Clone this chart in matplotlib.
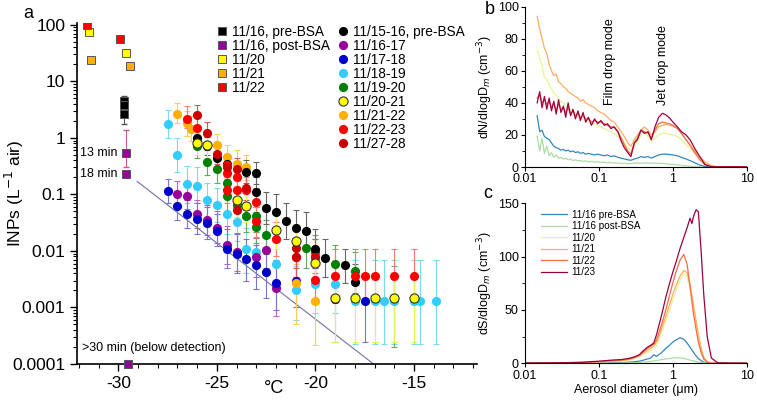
import numpy as np
import matplotlib
matplotlib.use('Agg')
import matplotlib.pyplot as plt
from matplotlib.lines import Line2D
from matplotlib.ticker import FixedLocator, FuncFormatter, MultipleLocator, NullLocator

plt.rcParams['font.family'] = ['Liberation Sans', 'DejaVu Sans']
plt.rcParams['axes.unicode_minus'] = False

# ---------- panel a: squares (BSA samples) ----------
sq_pre_T = [-29.7, -29.7, -29.7]
sq_pre_y = [4.5, 3.8, 2.6]
sq_pre_lo = [3.3, 2.6, 1.75]
sq_pre_hi = [5.5, 5.0, 3.6]
sq_post_T = [-29.6, -29.6]
sq_post_y = [0.55, 0.23]
sq_post_lo = [0.3, 0.23]
sq_post_hi = [1.4, 0.23]
sq_post_bd_T = [-29.5]          # below detection, drawn on the axis
sq_post_bd_y = [1e-4]
sq20_T = [-31.5, -29.6]
sq20_y = [75, 32]
sq21_T = [-31.4, -29.4]
sq21_y = [24, 19]
sq22_T = [-31.6, -29.9]
sq22_y = [100, 57]

# ---------- panel a: circles (daily samples) ----------
bk_T = [-26, -25.5, -25, -24.5, -23.5, -23, -23, -22.5, -22, -21.5, -21, -20.5, -20, -19.5, -18.5, -18]
bk_y = [1.0, 0.73, 0.44, 0.35, 0.25, 0.24, 0.11, 0.058, 0.049, 0.034, 0.025, 0.023, 0.011, 0.0075, 0.0056, 0.0028]
bk_lo = [0.7, 0.5, 0.28, 0.22, 0.16, 0.15, 0.06, 0.03, 0.024, 0.016, 0.012, 0.011, 0.005, 0.0035, 0.0027, 0.0012]
bk_hi = [1.4, 1.05, 0.65, 0.52, 0.4, 0.38, 0.2, 0.11, 0.1, 0.07, 0.052, 0.048, 0.024, 0.016, 0.011, 0.006]

pu_T = [-27, -26.5, -26, -25.5, -25, -24.5, -24, -23, -22.5, -22]
pu_y = [0.10, 0.094, 0.045, 0.035, 0.026, 0.013, 0.0096, 0.0079, 0.0106, 0.0022]
pu_lo = [0.06, 0.055, 0.025, 0.019, 0.014, 0.006, 0.0045, 0.0035, 0.005, 0.0007]
pu_hi = [0.17, 0.16, 0.08, 0.065, 0.05, 0.028, 0.021, 0.017, 0.022, 0.006]

bl_T = [-27.5, -27, -26.5, -26, -25.5, -25, -24.5, -24, -23.5, -23, -22.5, -22, -21, -19, -17.5]
bl_y = [0.115, 0.062, 0.045, 0.037, 0.031, 0.023, 0.011, 0.009, 0.0072, 0.0056, 0.0042, 0.0027, 0.003, 0.0014, 0.0013]
bl_lo = [0.07, 0.035, 0.025, 0.02, 0.016, 0.012, 0.005, 0.004, 0.003, 0.0021, 0.0015, 0.0009, 0.001, 0.00025, 0.00025]
bl_hi = [0.19, 0.11, 0.08, 0.07, 0.06, 0.045, 0.024, 0.02, 0.016, 0.013, 0.01, 0.007, 0.008, 0.004, 0.004]

cy_T = [-27.5, -27, -26.5, -26, -25.5, -25, -24.5, -24, -23.5, -23, -22, -21, -20, -19,
        -18, -17, -16.5, -16, -15, -14.7, -13.9]
cy_y = [1.75, 0.5, 0.15, 0.14, 0.08, 0.065, 0.045, 0.033, 0.011, 0.0094, 0.006, 0.002, 0.0026, 0.0026,
        0.0013, 0.0013, 0.0013, 0.0013, 0.0013, 0.0013, 0.0013]
cy_lo = [1.0, 0.25, 0.07, 0.07, 0.04, 0.032, 0.02, 0.015, 0.004, 0.0035, 0.0022, 0.0006, 0.0008, 0.0008,
         0.00023, 0.00023, 0.00023, 0.00023, 0.00023, 0.00023, 0.00023]
cy_hi = [3.1, 1.0, 0.32, 0.3, 0.16, 0.13, 0.095, 0.07, 0.025, 0.022, 0.015, 0.0055, 0.0065, 0.0065,
         0.0069, 0.0069, 0.0069, 0.0069, 0.0069, 0.0069, 0.0069]

gr_T = [-26, -25.5, -25, -24.5, -24.5, -24, -23.5, -23, -23, -22.5, -20.5, -20, -19, -18, -16]
gr_y = [0.73, 0.38, 0.28, 0.16, 0.092, 0.065, 0.042, 0.041, 0.027, 0.019, 0.0112, 0.0095, 0.006, 0.0044, 0.00145]
gr_lo = [0.45, 0.22, 0.16, 0.09, 0.05, 0.035, 0.022, 0.022, 0.014, 0.009, 0.005, 0.004, 0.0025, 0.0018, 0.0002]
gr_hi = [1.1, 0.6, 0.45, 0.26, 0.15, 0.11, 0.07, 0.07, 0.048, 0.035, 0.022, 0.019, 0.013, 0.0095, 0.0055]

ye_T = [-26, -25.5, -24, -23.5, -22, -21, -20, -19, -18, -17, -16, -15]
ye_y = [0.81, 0.76, 0.079, 0.062, 0.0235, 0.015, 0.0062, 0.00145, 0.00145, 0.00145, 0.00145, 0.00145]
ye_lo = [0.5, 0.45, 0.04, 0.032, 0.011, 0.007, 0.0025, 0.00025, 0.00025, 0.00025, 0.00025, 0.00025]
ye_hi = [1.2, 1.15, 0.14, 0.11, 0.045, 0.03, 0.013, 0.004, 0.004, 0.004, 0.004, 0.004]

or_T = [-27, -26.5, -26.3, -25, -24.5, -24, -23.5, -21, -20]
or_y = [2.7, 1.8, 1.45, 0.74, 0.46, 0.35, 0.31, 0.0027, 0.0013]
or_lo = [1.8, 1.1, 0.9, 0.45, 0.28, 0.2, 0.18, 0.0005, 0.00022]
or_hi = [4.2, 3.0, 2.4, 1.15, 0.75, 0.6, 0.5, 0.006, 0.0035]

rd_T = [-26.5, -26, -24.5, -24.5, -24.5, -24, -24, -23.5, -23, -23, -22, -21, -20, -20,
        -19, -18, -17.5, -17, -16, -15]
rd_y = [2.2, 1.5, 0.33, 0.24, 0.12, 0.2, 0.12, 0.12, 0.074, 0.034, 0.016, 0.0079, 0.0079, 0.0031,
        0.0036, 0.0036, 0.0036, 0.0036, 0.0036, 0.0036]
rd_lo = [1.5, 1.0, 0.2, 0.14, 0.07, 0.12, 0.07, 0.07, 0.04, 0.018, 0.008, 0.0035, 0.0035, 0.0012,
         0.0012, 0.0012, 0.0012, 0.0012, 0.0012, 0.0012]
rd_hi = [3.6, 2.3, 0.5, 0.38, 0.2, 0.32, 0.2, 0.2, 0.13, 0.06, 0.032, 0.016, 0.016, 0.0075,
         0.011, 0.011, 0.011, 0.011, 0.011, 0.011]

dr_T = [-26, -25.5, -25, -24.5, -24, -23.5, -24, -21, -21, -20]
dr_y = [2.5, 1.2, 0.53, 0.30, 0.28, 0.13, 0.053, 0.0112, 0.0077, 0.0079]
dr_lo = [1.6, 0.8, 0.35, 0.19, 0.18, 0.08, 0.03, 0.005, 0.0035, 0.0035]
dr_hi = [3.8, 1.9, 0.85, 0.5, 0.45, 0.22, 0.09, 0.024, 0.016, 0.016]

# reference line in panel a
ref_T = [-29.05, -17.05]
ref_y = [0.17, 1e-4]

# ---------- panel b: number size distributions ----------
D_b = [0.0146, 0.0158, 0.0170, 0.0183, 0.0197, 0.0212, 0.0228, 0.0245, 0.0264, 0.0284,
       0.0306, 0.033, 0.0355, 0.0383, 0.0413, 0.0445, 0.048, 0.052, 0.056, 0.061,
       0.066, 0.072, 0.079, 0.087, 0.096, 0.106, 0.118, 0.13, 0.145, 0.16,
       0.18, 0.2, 0.22, 0.245, 0.27, 0.3, 0.33, 0.37, 0.41, 0.46,
       0.51, 0.57, 0.64, 0.72, 0.8, 0.9, 1.0, 1.15, 1.3, 1.5,
       1.7, 2.0, 2.3, 2.7, 3.2, 4.0, 5.5, 7.5, 10.0]
N_pre = [32, 22, 23, 19, 18, 17, 15, 13, 12, 11.5,
         10.5, 11, 10, 10.5, 9.5, 10, 9, 9.5, 8.5, 9,
         8, 8.5, 8, 7.5, 8, 7.5, 7, 7.5, 6.5, 7,
         6, 5.5, 5, 4.5, 4.2, 5, 5.5, 6.5, 6, 6.5,
         5.5, 6.5, 7.5, 8, 8, 7.8, 7.5, 7, 6, 5,
         4, 2.5, 1.2, 0.4, 0.1, 0.1, 0.1, 0.1, 0.1]
N_post = [19, 10, 18, 8.5, 13, 7, 9, 6, 7.5, 5.5,
          6, 5, 5.5, 4.5, 5, 4, 4.5, 3.8, 4, 3.5,
          3.8, 3.3, 3.5, 3, 3.2, 2.8, 3, 2.6, 2.8, 2.4,
          2.5, 2.2, 2.3, 2, 2.1, 2.3, 2.5, 2.4, 2.6, 2.5,
          2.3, 2.4, 2.3, 2.2, 2, 1.8, 1.6, 1.3, 1.0, 0.7,
          0.4, 0.2, 0.1, 0.1, 0.1, 0.1, 0.1, 0.1, 0.1]
N_20 = [73, 68, 63, 56, 55, 51, 49, 46, 45, 42,
        41, 40, 38, 37, 36, 35, 34, 32, 31, 30,
        29, 29, 28, 27, 26, 25, 24, 23, 22, 21,
        19, 17, 15, 12, 10, 13, 16, 20, 22, 19,
        16, 18, 20, 21, 21, 20.5, 20, 19, 17, 14,
        11.5, 8, 5.7, 2.8, 0.8, 0.2, 0.1, 0.1, 0.1]
N_21 = [94, 86, 80, 74, 71, 64, 60, 57, 58, 53,
        52, 50, 49, 47, 46, 45, 44, 43, 41, 42,
        40, 39, 38, 37, 35, 34, 33, 31, 29, 28,
        25, 22, 19, 15, 13, 17, 20, 23, 25, 23,
        20, 22, 25, 26, 26.5, 26, 25.5, 24, 21, 17,
        14, 9.5, 6.4, 3.2, 1, 0.2, 0.1, 0.1, 0.1]
N_22 = [43, 45, 40, 42, 39, 41, 37, 40, 35, 39,
        36, 37, 34, 37, 33, 35, 32, 33, 31, 32,
        30, 30, 28, 29, 28, 28, 27, 26, 25, 25,
        22, 18, 14, 10, 8, 15, 18, 23, 22, 21,
        18, 23, 27, 28, 27.5, 27, 26, 24, 21, 17,
        13.5, 8.5, 4.5, 1.5, 0.3, 0.1, 0.1, 0.1, 0.1]
N_23 = [40, 47, 37, 44, 36, 43, 35, 41, 33, 42,
        34, 38, 31, 40, 32, 36, 30, 35, 29, 34,
        28, 31, 26, 30, 27, 29, 26, 27, 24, 25,
        22, 16, 12, 9, 6.5, 15, 17, 23, 21, 22,
        17, 25, 31, 33.5, 32.5, 30.5, 28, 25, 22, 20,
        17, 11, 6.5, 1.6, 0.3, 0.1, 0.1, 0.1, 0.1]

# ---------- panel c: surface size distributions ----------
D_c = [0.01, 0.03, 0.06, 0.1, 0.15, 0.2, 0.25, 0.3, 0.35, 0.4,
       0.45, 0.5, 0.55, 0.6, 0.7, 0.8, 0.9, 1.0, 1.1, 1.25,
       1.4, 1.55, 1.7, 1.8, 1.9, 2.05, 2.2, 2.4, 2.6, 2.9,
       3.3, 4.0, 6.0, 10.0]
S_pre = [0, 0, 0.1, 0.3, 0.5, 0.7, 1, 1.5, 2, 3,
         4, 5, 8, 6.5, 10, 14, 17, 20, 22, 24,
         22.5, 19, 15, 12.5, 10, 7, 4.5, 2.5, 1, 0.3,
         0.1, 0, 0, 0]
S_post = [0, 0, 0, 0.1, 0.1, 0.2, 0.3, 0.5, 0.8, 1.1,
          1.4, 1.8, 2.2, 2.6, 3.5, 4.1, 4.5, 5, 5.2, 5,
          4.5, 3.8, 3, 2.6, 2.2, 1.7, 1.2, 0.8, 0.5, 0.2,
          0.1, 0, 0, 0]
S_20 = [0.2, 0.3, 0.5, 1, 1.8, 2.2, 3, 4.5, 6, 9,
        10.5, 12, 14, 17, 28, 40, 50, 60, 68, 78,
        84, 82, 70, 62, 52, 38, 26, 13, 5, 1.2,
        0.3, 0.1, 0.1, 0.1]
S_21 = [0.2, 0.3, 0.6, 1.2, 2, 2.5, 3.5, 5, 7, 10,
        12, 14, 16, 20, 32, 44, 55, 65, 73, 82,
        87, 85, 74, 64, 54, 40, 27, 14, 6, 1.5,
        0.3, 0.1, 0.1, 0.1]
S_22 = [0.2, 0.4, 0.8, 1.5, 2.5, 3, 4, 5.5, 7.5, 11,
        14, 16, 18, 22, 36, 50, 64, 76, 86, 97,
        102, 93, 72, 58, 46, 32, 20, 10, 4, 1,
        0.2, 0.1, 0.1, 0.1]
S_23 = [0.3, 0.5, 1, 2, 3, 3.5, 4.5, 6, 8, 12,
        15, 17, 19, 27, 45, 62, 75, 86, 95, 108,
        118, 127, 136, 131, 138, 144, 142, 105, 65, 25,
        5, 0.5, 0.2, 0.1]

day_labels = ['11/16 pre-BSA', '11/16 post-BSA', '11/20', '11/21', '11/22', '11/23']
day_colors = ['#3288bd', '#abdda4', '#e6f598', '#fdae61', '#f46d43', '#9e0142']

# ---------- figure ----------
W, H = 757, 405
fig = plt.figure(figsize=(W / 100, H / 100), dpi=100)


def box(l, t, r, b):
    return [l / W, 1 - b / H, (r - l) / W, (b - t) / H]


# ===== panel a =====
ax = fig.add_axes(box(77, 23, 477, 364))
ax.set_yscale('log')
ax.set_xlim(-32.1, -11.8)
ax.set_ylim(1e-4, 108)
for s in ['top', 'right']:
    ax.spines[s].set_visible(False)
ax.spines['left'].set_linewidth(1.2)
ax.spines['bottom'].set_linewidth(1.2)

ax.plot(ref_T, ref_y, color='#7272a0', lw=0.8, zorder=1)

circles = [
    # T, y, lo, hi, face, errcolor, edge, label
    (cy_T, cy_y, cy_lo, cy_hi, '#33ccff', '#77ddee', None, '11/18-19'),
    (pu_T, pu_y, pu_lo, pu_hi, '#990099', '#bb66bb', None, '11/16-17'),
    (bl_T, bl_y, bl_lo, bl_hi, '#0000cc', '#7777cc', None, '11/17-18'),
    (gr_T, gr_y, gr_lo, gr_hi, '#008000', '#66aa66', None, '11/19-20'),
    (or_T, or_y, or_lo, or_hi, '#ffb000', '#ffcc55', None, '11/21-22'),
    (bk_T, bk_y, bk_lo, bk_hi, '#000000', '#666666', None, '11/15-16, pre-BSA'),
    (rd_T, rd_y, rd_lo, rd_hi, '#ff0000', '#ff7777', None, '11/22-23'),
    (dr_T, dr_y, dr_lo, dr_hi, '#cc0000', '#dd5555', None, '11/27-28'),
    (ye_T, ye_y, ye_lo, ye_hi, '#ffff00', '#eeee55', '#333333', '11/20-21'),
]

for T, y, lo, hi, fc, ec, edge, lab in circles:
    y = np.array(y)
    err = [y - np.array(lo), np.array(hi) - y]
    ax.errorbar(T, y, yerr=err, fmt='none', ecolor=ec, elinewidth=0.8,
                capsize=2.2, capthick=0.8, zorder=2)
for i, (T, y, lo, hi, fc, ec, edge, lab) in enumerate(circles):
    ax.plot(T, y, 'o', ms=6.6, mfc=fc, mec=edge if edge else fc,
            mew=0.8 if edge else 0, ls='none', zorder=4 + i)

# squares
ax.errorbar(sq_pre_T, sq_pre_y,
            yerr=[np.array(sq_pre_y) - np.array(sq_pre_lo), np.array(sq_pre_hi) - np.array(sq_pre_y)],
            fmt='none', ecolor='#555555', elinewidth=0.8, capsize=2.2, zorder=2)
ax.errorbar(sq_post_T, sq_post_y,
            yerr=[np.array(sq_post_y) - np.array(sq_post_lo), np.array(sq_post_hi) - np.array(sq_post_y)],
            fmt='none', ecolor='#cc5599', elinewidth=0.8, capsize=2.2, zorder=2)
squares = [
    (sq_pre_T, sq_pre_y, '#000000', '11/16, pre-BSA'),
    (sq_post_T, sq_post_y, '#990099', '11/16, post-BSA'),
    (sq20_T, sq20_y, '#ffff00', '11/20'),
    (sq21_T, sq21_y, '#ffb000', '11/21'),
    (sq22_T, sq22_y, '#ff0000', '11/22'),
]
for T, y, fc, lab in squares:
    ax.plot(T, y, 's', ms=5.4, mfc=fc, mec='#555555', mew=0.7, ls='none', zorder=15)
ax.plot(sq_post_bd_T, sq_post_bd_y, 's', ms=5.4, mfc='#990099', mec='#555555', mew=0.7,
        ls='none', zorder=15, clip_on=False)

ax.text(-30.05, 0.55, '13 min', ha='right', va='center', fontsize=9)
ax.text(-30.05, 0.23, '18 min', ha='right', va='center', fontsize=9)
ax.text(-31.85, 1.9e-4, '>30 min (below detection)', ha='left', va='center', fontsize=9)

ax.yaxis.set_major_locator(FixedLocator([1e-4, 1e-3, 1e-2, 1e-1, 1, 10, 100]))
ax.yaxis.set_major_formatter(FuncFormatter(lambda v, p: f'{v:g}'))
ax.xaxis.set_major_locator(FixedLocator([-30, -25, -20, -15]))
ax.xaxis.set_minor_locator(MultipleLocator(1))
ax.tick_params(axis='both', which='major', labelsize=12.5, direction='out', length=5, width=1)
ax.tick_params(axis='both', which='minor', direction='out', length=3, width=0.8)
ax.set_ylabel('INPs (L$^{-1}$ air)', fontsize=12.5, va='center')
ax.yaxis.set_label_coords((14 - 77) / 400, 0.5)
ax.set_xlabel('°C', fontsize=13)
ax.xaxis.set_label_coords((274 - 77) / 400, (364 - 380) / 341)

sq_handles = [Line2D([], [], marker='s', ls='none', ms=5.4, mfc=fc, mec='#555555', mew=0.7)
              for T, y, fc, lab in squares]
leg1 = fig.legend(sq_handles, [s[3] for s in squares], loc='upper left',
                  bbox_to_anchor=(217 / W, 1 - 25 / H), frameon=False, fontsize=9.8,
                  handlelength=0.8, handletextpad=0.3, labelspacing=0.0, borderpad=0,
                  borderaxespad=0)
legend_order = ['11/15-16, pre-BSA', '11/16-17', '11/17-18', '11/18-19', '11/19-20',
                '11/20-21', '11/21-22', '11/22-23', '11/27-28']
by_label = {c[7]: c for c in circles}
ci_handles = [Line2D([], [], marker='o', ls='none', ms=6.6, mfc=by_label[l][4],
                     mec=by_label[l][6] if by_label[l][6] else by_label[l][4],
                     mew=0.8 if by_label[l][6] else 0) for l in legend_order]
leg2 = fig.legend(ci_handles, legend_order, loc='upper left',
                  bbox_to_anchor=(338 / W, 1 - 25 / H), frameon=False, fontsize=9.8,
                  handlelength=0.8, handletextpad=0.3, labelspacing=0.0, borderpad=0,
                  borderaxespad=0)

# ===== panel b =====
axb = fig.add_axes(box(525, 6.7, 747, 167))
axb.set_xscale('log')
axb.set_xlim(0.01, 10)
axb.set_ylim(0, 100)
for vals, col in zip([N_post, N_pre, N_20, N_21, N_22, N_23],
                     [day_colors[1], day_colors[0], day_colors[2], day_colors[3], day_colors[4], day_colors[5]]):
    axb.plot(D_b, vals, color=col, lw=0.9)
axb.text(0.141, 38.5, 'Film drop mode', rotation=90, ha='center', va='bottom', fontsize=9)
axb.text(0.736, 38.5, 'Jet drop mode', rotation=90, ha='center', va='bottom', fontsize=9)
axb.set_ylabel('dN/dlogD$_m$ (cm$^{-3}$)', fontsize=9, labelpad=2)
axb.yaxis.set_major_locator(MultipleLocator(20))
axb.yaxis.set_minor_locator(MultipleLocator(10))

# ===== panel c =====
axc = fig.add_axes(box(525, 203.3, 747, 363.3))
axc.set_xscale('log')
axc.set_xlim(0.01, 10)
axc.set_ylim(0, 150)
for vals, col, lab in zip([S_pre, S_post, S_20, S_21, S_22, S_23], day_colors, day_labels):
    axc.plot(D_c, vals, color=col, lw=0.9, label=lab)
axc.legend(loc='upper left', bbox_to_anchor=(0.05, 0.99), frameon=False, fontsize=7.1,
           handlelength=2.6, handletextpad=0.5, labelspacing=0.15, borderpad=0)
axc.set_ylabel('dS/dlogD$_m$ (cm$^{-3}$)', fontsize=9, labelpad=2)
axc.set_xlabel('Aerosol diameter (\u03bcm)', fontsize=9, labelpad=2)
axc.yaxis.set_major_locator(MultipleLocator(50))
axc.yaxis.set_minor_locator(MultipleLocator(25))

for a in (axb, axc):
    for s in ['top', 'right']:
        a.spines[s].set_visible(False)
    a.xaxis.set_major_locator(FixedLocator([0.01, 0.1, 1, 10]))
    a.xaxis.set_major_formatter(FuncFormatter(lambda v, p: f'{v:g}'))
    a.xaxis.set_minor_locator(NullLocator())
    a.tick_params(axis='both', which='major', labelsize=9, direction='out', length=3, width=0.8, pad=1.5)
    a.tick_params(axis='y', which='minor', direction='out', length=2, width=0.6)

fig.text(28 / W, 1 - 13 / H, 'a', fontsize=13, ha='center', va='center')
fig.text(490 / W, 1 - 10 / H, 'b', fontsize=13, ha='center', va='center')
fig.text(488 / W, 1 - 193 / H, 'c', fontsize=13, ha='center', va='center')

fig.savefig('out.png', dpi=100)
